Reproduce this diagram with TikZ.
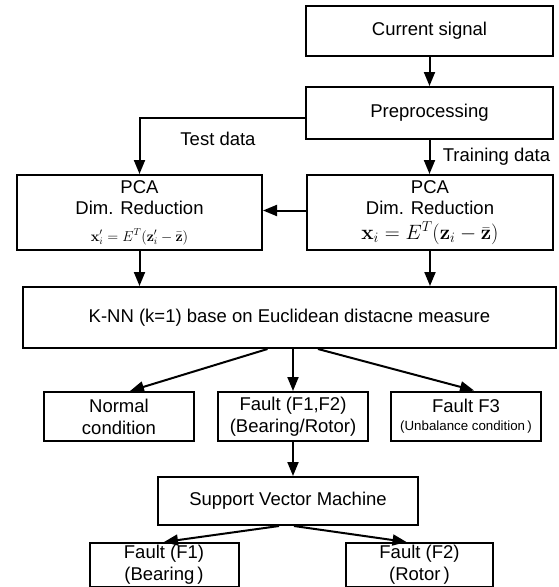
\documentclass[tikz,border=0pt]{standalone}
\usepackage[no-math]{fontspec}
\setmainfont{Liberation Sans}
\usetikzlibrary{arrows.meta}
\begin{document}
\begin{tikzpicture}[x=1pt,y=-1pt,
  box/.style={draw, line width=2pt, inner sep=0pt, align=center,
              font=\fontsize{18.5}{22}\selectfont},
  arr/.style={line width=2pt, -{Triangle[length=14pt,width=11pt]}},
  lbl/.style={inner sep=0pt, font=\fontsize{18.5}{22}\selectfont}]
\useasboundingbox (0,0) rectangle (558,587);

% processing chain
\node[box, minimum width=247pt, minimum height=50pt] (cur) at (429.5,31) {Current signal};
\node[box, minimum width=247pt, minimum height=52pt] (pre) at (429.5,113) {Preprocessing};

\node[box, minimum width=245pt, minimum height=75pt] (pcaL) at (139.5,212.5)
  {PCA\\[-1pt]Dim. Reduction\\[5pt]{\fontsize{14.5}{16}\selectfont
   $\mathbf{x}'_i = E^T(\mathbf{z}'_i - \bar{\mathbf{z}})$}};
\node[box, minimum width=246pt, minimum height=75pt] (pcaR) at (430,212.5)
  {PCA\\[-1pt]Dim. Reduction\\[3pt]{\fontsize{20}{22}\selectfont
   $\mathbf{x}_i = E^T(\mathbf{z}_i - \bar{\mathbf{z}})$}};

\node[box, minimum width=533pt, minimum height=61pt] (knn) at (289.5,317.5)
  {K-NN (k=1) base on Euclidean distacne measure};

% classification results
\node[box, minimum width=150pt, minimum height=49pt] (norm) at (119,416.5) {Normal\\condition};
\node[box, minimum width=150pt, minimum height=49pt] (f12) at (293,416.5) {Fault (F1,F2)\\(Bearing/Rotor)};
\node[box, minimum width=150pt, minimum height=49pt] (f3) at (466,416)
  {Fault F3\\[-4pt]{\fontsize{13.3}{15}\selectfont (Unbalance condition\,)}};

\node[box, minimum width=260pt, minimum height=48pt] (svm) at (288,501) {Support Vector Machine};

\node[box, minimum width=149pt, minimum height=44pt] (f1) at (164,565) {Fault (F1)\\(Bearing\,)};
\node[box, minimum width=147pt, minimum height=44pt] (f2) at (419.5,565) {Fault (F2)\\(Rotor\,)};

% data labels
\node[lbl] (test) at (218,139) {Test data};
\node[lbl] (train) at (496.5,157) {Training data};

% connectors
\draw[arr] (cur) -- (pre);
\draw[arr] ([yshift=-5pt]pre.west) -| (pcaL.north);
\draw[arr] (pre.south) -- (pre.south |- pcaR.north);
\draw[arr] ([yshift=2pt]pcaR.west) -- ([yshift=2pt]pcaL.east);
\draw[arr] (pcaL.south) -- (pcaL.south |- knn.north);
\draw[arr] (pcaR.south) -- (pcaR.south |- knn.north);

\draw[arr] ([xshift=-22pt]knn.south) -- ([xshift=11pt]norm.north);
\draw[arr] (f12.north |- knn.south) -- (f12.north);
\draw[arr] ([xshift=28.5pt]knn.south) -- ([xshift=8pt]f3.north);

\draw[arr] (f12.south) -- (f12.south |- svm.north);
\draw[arr] ([xshift=-9pt]svm.south) -- (f1.north);
\draw[arr] ([xshift=6pt]svm.south) -- ([xshift=-13pt]f2.north);
\end{tikzpicture}
\end{document}
